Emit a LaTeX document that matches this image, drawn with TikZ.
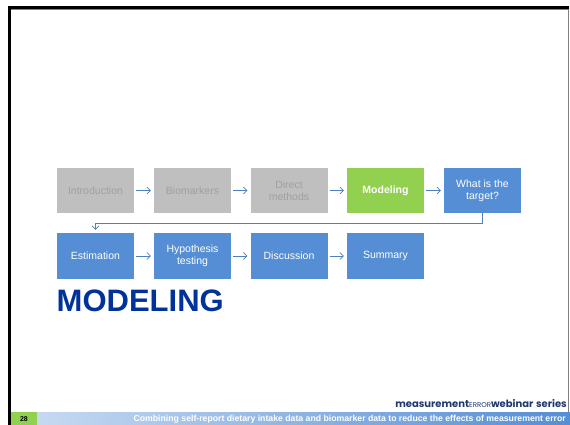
\documentclass[tikz,border=0pt]{standalone}
\usepackage{fontspec}
\setmainfont{Liberation Sans}
\newfontfamily\logofont{Poppins}
\usetikzlibrary{calc,arrows.meta}

\definecolor{boxgray}{RGB}{191,191,191}
\definecolor{txtgray}{RGB}{160,160,160}
\definecolor{boxgreen}{RGB}{146,208,80}
\definecolor{boxblue}{RGB}{85,142,213}
\definecolor{arrowblue}{RGB}{79,129,189}
\definecolor{titleblue}{RGB}{0,51,153}
\definecolor{barlight}{RGB}{198,217,241}
\definecolor{logoblue}{RGB}{31,56,112}

\tikzset{
	topic/.style={minimum width=77pt,minimum height=45pt,inner sep=1pt,align=center,font=\fontsize{10.5}{12}\selectfont},
	done/.style={topic,fill=boxgray,text=txtgray},
	now/.style={topic,fill=boxgreen,text=white,font=\fontsize{10.5}{12}\selectfont\bfseries},
	todo/.style={topic,fill=boxblue,text=white},
	flow/.style={arrowblue,semithick,-{Straight Barb[length=3.5pt,width=7pt]},shorten <=2pt,shorten >=3pt}
}

\begin{document}
\begin{tikzpicture}[x=1pt,y=-1pt]
			\useasboundingbox[fill=white] (0,0) rectangle (570,425);
			% frame
			\draw[line width=3pt] (9.5,425) -- (9.5,7.5) -- (569,7.5);
			\draw[gray,line width=0.8pt] (11,9.5) -- (568,9.5) -- (568,412);
			
			\node[done](intro)at(95.5,190.5) {Introduction};
			\node[done](bio)at(192.5,190.5) {Biomarkers};
			\node[done](direct)at(289,190.5) {Direct\\methods};
			\node[now](model)at(385.5,190.5) {Modeling};
			\node[todo](target)at(482.5,190.5) {What is the\\target?};
			\node[todo,minimum height=46pt](estim)at(95.5,256) {Estimation};
			\node[todo,minimum height=46pt](hypo)at(192.5,256) {Hypothesis\\testing};
			\node[todo,minimum height=46pt](disc)at(289,256) {Discussion};
			\node[todo,minimum height=46pt](summ)at(385.5,256) {Summary};
			
			\draw[flow](intro) -- (bio);
			\draw[flow](bio) -- (direct);
			\draw[flow](direct) -- (model);
			\draw[flow](model) -- (target);
			\draw[flow,shorten <=0pt](target.south) -- ++(0,10) -| (estim.north);
			\draw[flow](estim) -- (hypo);
			\draw[flow](hypo) -- (disc);
			\draw[flow](disc) -- (summ);
			
			\node[anchor=base west,inner sep=0,text=titleblue,font=\fontsize{31}{31}\selectfont\bfseries](title)at(56.5,311.5) {MODELING};
			
			% footer
			\node[anchor=base east,inner sep=0,text=logoblue,font=\logofont\fontsize{10}{10}\selectfont](logo)at(567,407) {\textbf{measurement}{\fontsize{7}{7}\selectfont ERROR}\textbf{webinar} \textbf{series}};
			\fill[boxgreen] (11,412) rectangle (37,425);
			\shade[left color=barlight,right color=boxblue] (37,412) rectangle (570,425);
			\node[inner sep=0,font=\fontsize{7}{7}\selectfont\bfseries](page)at(24,419) {28};
			\node[anchor=east,inner sep=0,text=white,font=\fontsize{8.7}{8.7}\selectfont\bfseries](subtitle)at(566,419) {Combining self-report dietary intake data and biomarker data to reduce the effects of measurement error};
		\end{tikzpicture}
\end{document}
